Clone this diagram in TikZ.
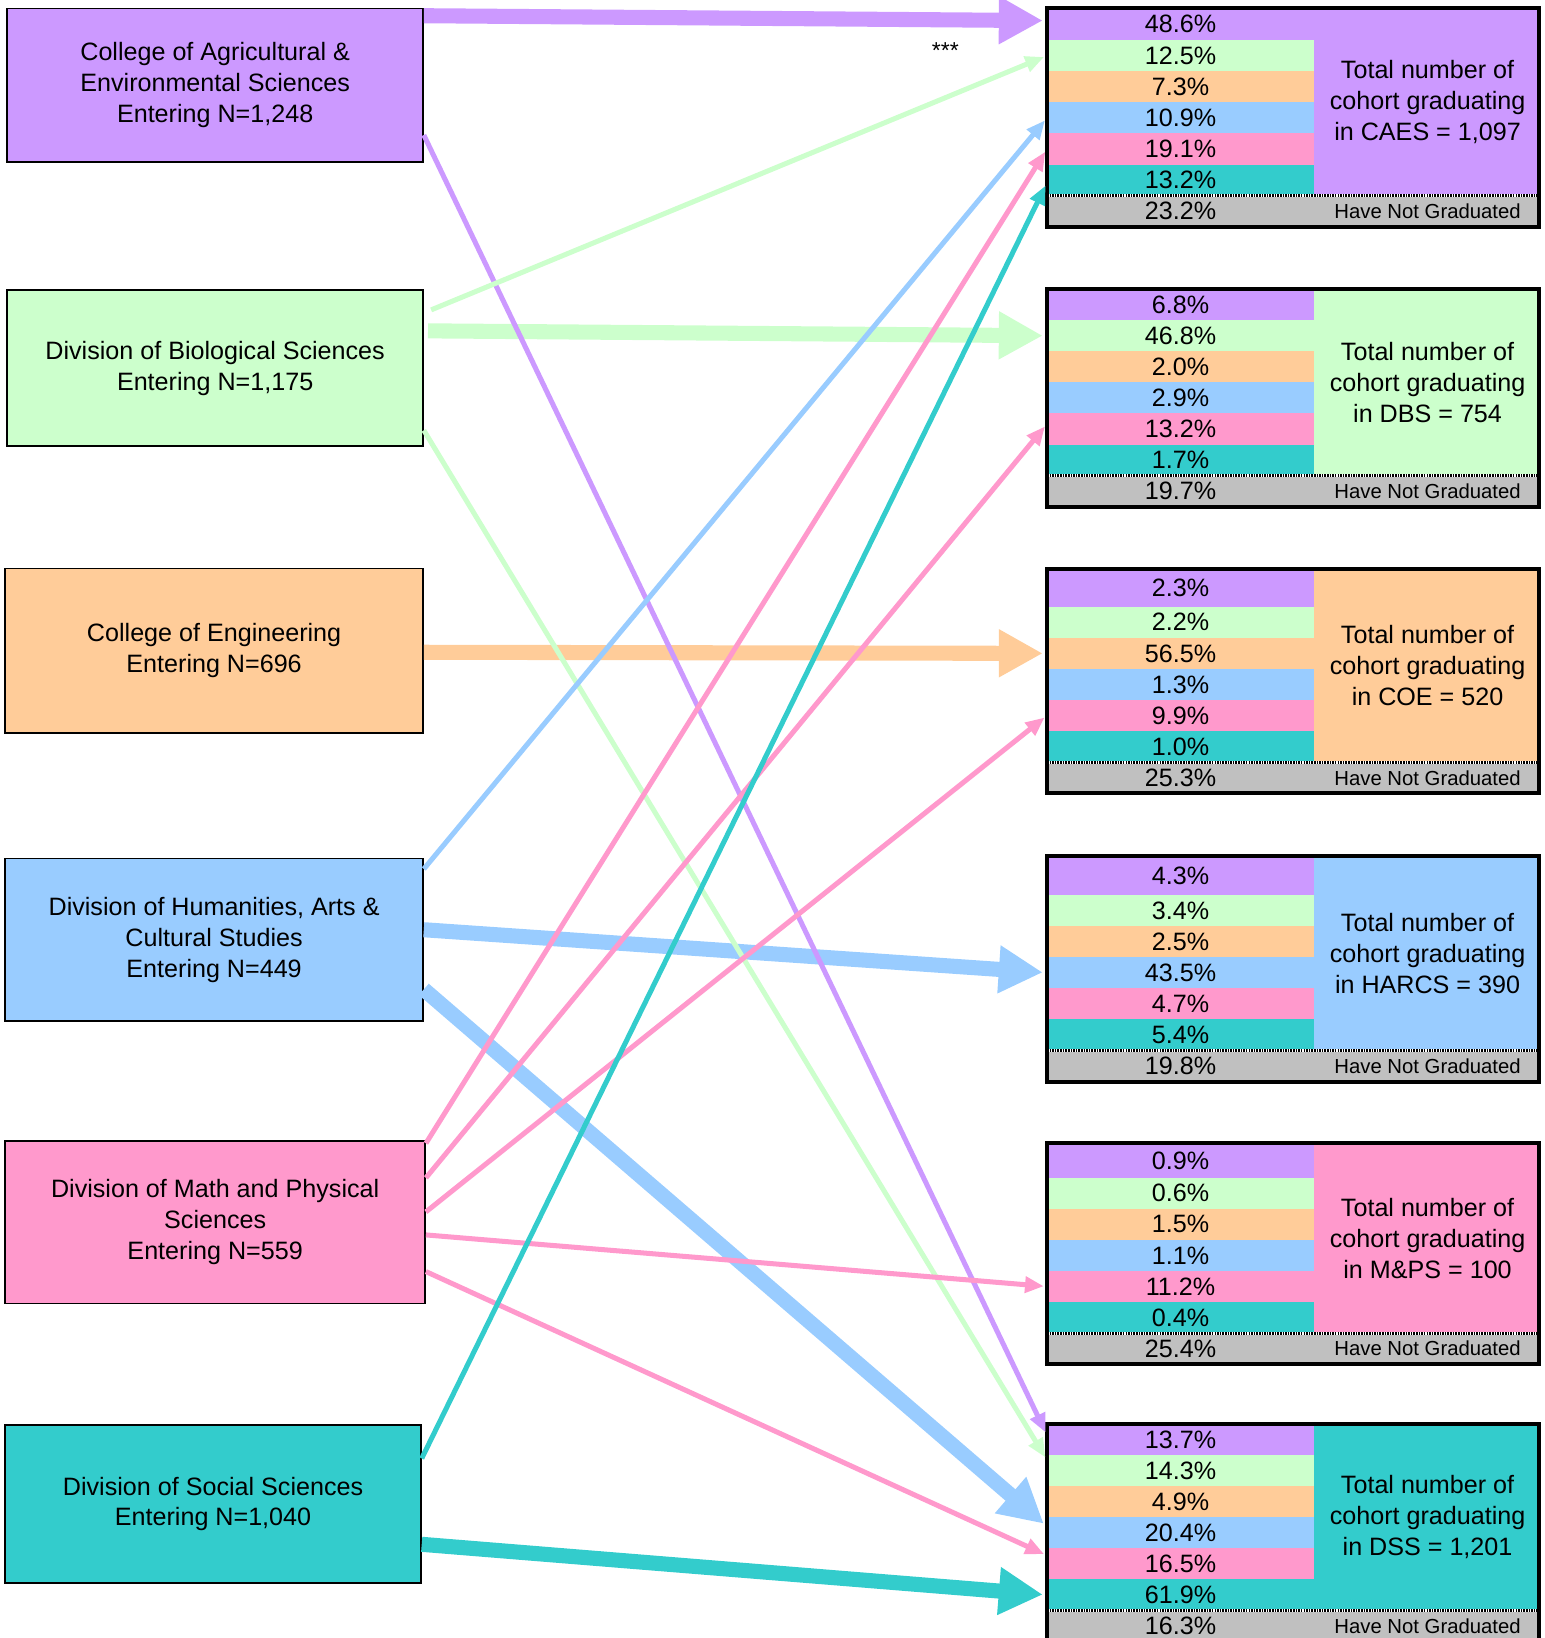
\documentclass[tikz,border=0pt]{standalone}
\usepackage{fontspec}
\setmainfont{Liberation Sans}
\usetikzlibrary{arrows.meta, positioning}
\definecolor{caesc}{HTML}{CC99FF}
\definecolor{dbsc}{HTML}{CCFFCC}
\definecolor{coec}{HTML}{FFCC99}
\definecolor{harcsc}{HTML}{99CCFF}
\definecolor{mpsc}{HTML}{FF99CC}
\definecolor{dssc}{HTML}{33CCCC}
\definecolor{notc}{HTML}{C0C0C0}
\tikzset{
  unit/.style={
    minimum width=198.5pt,
    align=center,
    draw=black,
    line width=0.8pt,
    inner sep=0pt,
    font=\fontsize{12}{14.8}\selectfont
  },
  total/.style={
    minimum width=235pt,
    inner sep=0pt,
    outer sep=0pt,
    anchor=north west
  },
  share/.style={
    minimum width=127.5pt,
    minimum height=14.85pt,
    inner sep=0pt,
    outer sep=0pt,
    font=\fontsize{12}{14}\selectfont
  },
  notgrad/.style={
    minimum width=235pt,
    minimum height=14.85pt,
    inner sep=0pt,
    outer sep=0pt,
    fill=notc,
    anchor=north west
  },
  summary/.style={
    align=center,
    inner sep=0pt,
    font=\fontsize{12}{14.8}\selectfont
  },
  small/.style={font=\fontsize{9.7}{11}\selectfont, inner sep=0pt},
  boxline/.style={draw=black, line width=1.9pt},
  dotrule/.style={line width=1.45pt, dash pattern=on 0.75pt off 0.5pt,
    preaction={draw=white, solid, line width=1.45pt}},
  flowbig/.style={draw, line width=7.2pt, -{Triangle[length=21pt,width=21.5pt]}, shorten >=2pt},
  flowthin/.style={draw, line width=2.4pt, -{Triangle[length=9pt,width=7.5pt]}, shorten >=1.5pt}
}
\begin{document}
\begin{tikzpicture}[x=0.5pt, y=-0.5pt]
  \useasboundingbox (0,0) rectangle (1475.6,1564.5);
  % entering units
  \node (caes) [unit, fill=caesc, minimum height=73.5pt] at (205.5,81.5) {College of Agricultural \&\\Environmental Sciences\\Entering N=1,248};
  \node (dbs) [unit, fill=dbsc, minimum height=74.5pt] at (205.5,351.5) {Division of Biological Sciences\\Entering N=1,175};
  \node (coe) [unit, fill=coec, minimum width=199.5pt, minimum height=78.5pt] at (204.5,621.5) {College of Engineering\\Entering N=696};
  \node (harcs) [unit, fill=harcsc, minimum width=199.5pt, minimum height=77.5pt] at (204.5,897.5) {Division of Humanities, Arts \&\\Cultural Studies\\ Entering N=449};
  \node (mps) [unit, fill=mpsc, minimum width=200.5pt, minimum height=77.5pt] at (205.5,1167.5) {Division of Math and Physical\\Sciences\\ Entering N=559};
  \node (dss) [unit, fill=dssc, minimum height=75.5pt] at (203.5,1436.5) {Division of Social Sciences\\Entering N=1,040};
  \node (stars) [font=\fontsize{11}{12}\selectfont] at (903,48) {***};

  % graduating in CAES
  \node (gcaes) [total, fill=caesc, minimum height=104.3pt] at (1000,8) {};
  \node (gcaes1) [share, fill=caesc, anchor=north west, minimum height=15.2pt] at (1000,8) {48.6\%};
  \node (gcaes2) [share, fill=dbsc, below=0pt of gcaes1] {12.5\%};
  \node (gcaes3) [share, fill=coec, below=0pt of gcaes2] {7.3\%};
  \node (gcaes4) [share, fill=harcsc, below=0pt of gcaes3] {10.9\%};
  \node (gcaes5) [share, fill=mpsc, below=0pt of gcaes4] {19.1\%};
  \node (gcaes6) [share, fill=dssc, below=0pt of gcaes5] {13.2\%};
  \node (gcaesn) [notgrad] at (gcaes6.south west) {};
  \node (gcaesp) [share] at (gcaes6 |- gcaesn) {23.2\%};
  \node (tcaes) [summary] at (1363.5,97.4) {Total number of\\cohort graduating\\in CAES = 1,097};
  \node (hcaes) [small] at (tcaes |- gcaesn) {Have Not Graduated};
  \draw[dotrule] (gcaesn.north west) -- (gcaesn.north east);
  \draw[boxline] (gcaes.north west) rectangle (gcaes.south east);

  % graduating in DBS
  \node (gdbs) [total, fill=dbsc, minimum height=104pt] at (1000,276) {};
  \node (gdbs1) [share, fill=caesc, anchor=north west, minimum height=14.9pt] at (1000,276) {6.8\%};
  \node (gdbs2) [share, fill=dbsc, below=0pt of gdbs1] {46.8\%};
  \node (gdbs3) [share, fill=coec, below=0pt of gdbs2] {2.0\%};
  \node (gdbs4) [share, fill=harcsc, below=0pt of gdbs3] {2.9\%};
  \node (gdbs5) [share, fill=mpsc, below=0pt of gdbs4] {13.2\%};
  \node (gdbs6) [share, fill=dssc, below=0pt of gdbs5] {1.7\%};
  \node (gdbsn) [notgrad] at (gdbs6.south west) {};
  \node (gdbsp) [share] at (gdbs6 |- gdbsn) {19.7\%};
  \node (tdbs) [summary] at (1363.5,365.2) {Total number of\\cohort graduating\\in DBS = 754};
  \node (hdbs) [small] at (tdbs |- gdbsn) {Have Not Graduated};
  \draw[dotrule] (gdbsn.north west) -- (gdbsn.north east);
  \draw[boxline] (gdbs.north west) rectangle (gdbs.south east);

  % graduating in COE
  \node (gcoe) [total, fill=coec, minimum height=107.35pt] at (1000,543) {};
  \node (gcoe1) [share, fill=caesc, anchor=north west, minimum height=18.25pt] at (1000,543) {2.3\%};
  \node (gcoe2) [share, fill=dbsc, below=0pt of gcoe1] {2.2\%};
  \node (gcoe3) [share, fill=coec, below=0pt of gcoe2] {56.5\%};
  \node (gcoe4) [share, fill=harcsc, below=0pt of gcoe3] {1.3\%};
  \node (gcoe5) [share, fill=mpsc, below=0pt of gcoe4] {9.9\%};
  \node (gcoe6) [share, fill=dssc, below=0pt of gcoe5] {1.0\%};
  \node (gcoen) [notgrad] at (gcoe6.south west) {};
  \node (gcoep) [share] at (gcoe6 |- gcoen) {25.3\%};
  \node (tcoe) [summary] at (1363.5,635.5) {Total number of\\cohort graduating\\in COE = 520};
  \node (hcoe) [small] at (tcoe |- gcoen) {Have Not Graduated};
  \draw[dotrule] (gcoen.north west) -- (gcoen.north east);
  \draw[boxline] (gcoe.north west) rectangle (gcoe.south east);

  % graduating in HARCS
  \node (gharcs) [total, fill=harcsc, minimum height=107.5pt] at (1000,818) {};
  \node (gharcs1) [share, fill=caesc, anchor=north west, minimum height=18.4pt] at (1000,818) {4.3\%};
  \node (gharcs2) [share, fill=dbsc, below=0pt of gharcs1] {3.4\%};
  \node (gharcs3) [share, fill=coec, below=0pt of gharcs2] {2.5\%};
  \node (gharcs4) [share, fill=harcsc, below=0pt of gharcs3] {43.5\%};
  \node (gharcs5) [share, fill=mpsc, below=0pt of gharcs4] {4.7\%};
  \node (gharcs6) [share, fill=dssc, below=0pt of gharcs5] {5.4\%};
  \node (gharcsn) [notgrad] at (gharcs6.south west) {};
  \node (gharcsp) [share] at (gharcs6 |- gharcsn) {19.8\%};
  \node (tharcs) [summary] at (1363.5,910.7) {Total number of\\cohort graduating\\in HARCS = 390};
  \node (hharcs) [small] at (tharcs |- gharcsn) {Have Not Graduated};
  \draw[dotrule] (gharcsn.north west) -- (gharcsn.north east);
  \draw[boxline] (gharcs.north west) rectangle (gharcs.south east);

  % graduating in M&PS
  \node (gmps) [total, fill=mpsc, minimum height=105.5pt] at (1000,1092) {};
  \node (gmps1) [share, fill=caesc, anchor=north west, minimum height=16.4pt] at (1000,1092) {0.9\%};
  \node (gmps2) [share, fill=dbsc, below=0pt of gmps1] {0.6\%};
  \node (gmps3) [share, fill=coec, below=0pt of gmps2] {1.5\%};
  \node (gmps4) [share, fill=harcsc, below=0pt of gmps3] {1.1\%};
  \node (gmps5) [share, fill=mpsc, below=0pt of gmps4] {11.2\%};
  \node (gmps6) [share, fill=dssc, below=0pt of gmps5] {0.4\%};
  \node (gmpsn) [notgrad] at (gmps6.south west) {};
  \node (gmpsp) [share] at (gmps6 |- gmpsn) {25.4\%};
  \node (tmps) [summary] at (1363.5,1182.7) {Total number of\\cohort graduating\\in M\&PS = 100};
  \node (hmps) [small] at (tmps |- gmpsn) {Have Not Graduated};
  \draw[dotrule] (gmpsn.north west) -- (gmpsn.north east);
  \draw[boxline] (gmps.north west) rectangle (gmps.south east);

  % graduating in DSS
  \node (gdss) [total, fill=dssc, minimum height=103.95pt] at (1000,1360) {};
  \node (gdss1) [share, fill=caesc, anchor=north west] at (1000,1360) {13.7\%};
  \node (gdss2) [share, fill=dbsc, below=0pt of gdss1] {14.3\%};
  \node (gdss3) [share, fill=coec, below=0pt of gdss2] {4.9\%};
  \node (gdss4) [share, fill=harcsc, below=0pt of gdss3] {20.4\%};
  \node (gdss5) [share, fill=mpsc, below=0pt of gdss4] {16.5\%};
  \node (gdss6) [share, fill=dssc, below=0pt of gdss5] {61.9\%};
  \node (gdssn) [notgrad] at (gdss6.south west) {};
  \node (gdssp) [share] at (gdss6 |- gdssn) {16.3\%};
  \node (tdss) [summary] at (1363.5,1449) {Total number of\\cohort graduating\\in DSS = 1,201};
  \node (hdss) [small] at (tdss |- gdssn) {Have Not Graduated};
  \draw[dotrule] (gdssn.north west) -- (gdssn.north east);
  \draw[boxline] (gdss.north west) rectangle (gdss.south east);

  % flows
  \path
  ([yshift=33.25pt]caes.east) edge[flowbig, caesc] ([yshift=1.75pt]gcaes1.west)
  ([xshift=2pt,yshift=17.75pt]dbs.east) edge[flowbig, dbsc] (gdbs2.west)
  ([yshift=-0.75pt]coe.east) edge[flowbig, coec] (gcoe3.west)
  ([yshift=4.75pt]harcs.east) edge[flowbig, harcsc] (gharcs4.west)
  ([yshift=-23.75pt]harcs.east) edge[flowbig, harcsc] ([yshift=3pt]gdss4.west)
  ([yshift=-19.25pt]dss.east) edge[flowbig, dssc] (gdss6.west)
  ;
  \path
  ([yshift=-23.75pt]caes.east) edge[flowthin, caesc] ([yshift=2pt]gdss1.west)
  ([xshift=3.5pt,yshift=27.75pt]dbs.east) edge[flowthin, dbsc] (gcaes2.west)
  ([yshift=-29.75pt]dbs.east) edge[flowthin, dbsc] ([yshift=5pt]gdss2.west)
  ([yshift=33.75pt]harcs.east) edge[flowthin, harcsc] (gcaes4.west)
  ([yshift=37.75pt]mps.east) edge[flowthin, mpsc] (gcaes5.west)
  ([yshift=21.25pt]mps.east) edge[flowthin, mpsc] ([yshift=2.4pt]gdbs5.west)
  ([yshift=5pt]mps.east) edge[flowthin, mpsc] (gcoe5.west)
  ([yshift=-6pt]mps.east) edge[flowthin, mpsc] (gmps5.west)
  ([yshift=-23.5pt]mps.east) edge[flowthin, mpsc] ([yshift=4pt]gdss5.west)
  ([yshift=21.75pt]dss.east) edge[flowthin, dssc] ([yshift=-1.25pt]gcaes6.west)
  ;
\end{tikzpicture}
\end{document}
